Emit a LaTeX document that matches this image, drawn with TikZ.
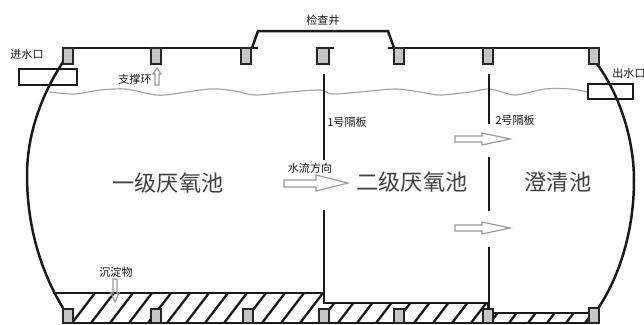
\documentclass[tikz,border=0pt]{standalone}
\usepackage{fontspec}
\usepackage{xcolor}
\newfontfamily\cjk{Noto Sans CJK SC}
\usetikzlibrary{positioning}

\tikzset{
    wall/.style={line width=0.5mm, black!90},
    hatchline/.style={line width=0.46mm, black!90},
    ring/.style={line width=0.46mm, draw=black!85, fill=gray!45},
    openarrow/.style={line width=0.24mm, draw=gray!80, fill=white},
    biglabel/.style={font=\cjk\fontsize{12.6}{14}\selectfont, text=black!75, inner sep=0pt},
    smalllabel/.style={font=\cjk\fontsize{6.3}{8}\selectfont, text=black!90, inner sep=0pt}
}

\begin{document}
\begin{tikzpicture}[x=0.2mm, y=-0.2mm]
    \useasboundingbox (0,0) rectangle (644,325);

    % Sediment
    \begin{scope}
        \clip (53,293) -- (324,293) -- (324,303) -- (488,303) -- (488,313) -- (599,313) -- (599,323) -- (63,323) -- cycle;
        \foreach \x in {72,91,...,600} {
            \draw[hatchline] (\x,323) -- (\x+23,293);
        }
    \end{scope}
    \draw[wall] (53,293) -- (324,293) -- (324,303) -- (488,303);
    \draw[wall] (488,303) -- (488,313) -- (599,313);
    \draw[wall] (63,323) -- (599,323);

    % Water level
    \draw[gray!70, line width=0.24mm] plot[smooth] coordinates {(49,92) (75,94) (100,90) (125,89) (150,94) (165,95) (210,89) (235,91) (255,95) (290,92) (320,90) (332,94) (360,92) (395,89) (420,92) (440,95) (470,92) (490,89) (515,95) (545,89) (570,89) (588,92)};

    % Tank
    \draw[wall] (63,62) .. controls (38,100) and (27,140) .. (27,175) .. controls (27,225) and (40,270) .. (63,308);
    \draw[wall] (597,64) .. controls (620,95) and (634,140) .. (634,180) .. controls (634,230) and (620,275) .. (599,307);
    \draw[wall] (63,48) -- (258,48);
    \draw[wall] (252,48) -- (258,31) -- (388,31) -- (394,48);
    \draw[wall] (317,48) -- (334,48);
    \draw[wall] (388,48) -- (599,48);

    % Inlet and outlet
    \draw[wall] (19,69) rectangle (77,85);
    \draw[wall] (588,84) rectangle (633,99);

    % Support rings
    \foreach \x/\w in {63/10, 151/10, 241/10, 317/12, 394/10, 483/10, 589/10} {
        \draw[ring] (\x,48) rectangle (\x+\w,64);
    }
    \foreach \x/\w/\y in {63/10/309, 151/10/309, 243/10/309, 319/10/309, 394/10/309, 483/10/309, 589/10/308} {
        \draw[ring] (\x,\y) rectangle (\x+\w,323);
    }

    % Baffles
    \draw[wall] (324,74) -- (324,160);
    \draw[wall] (324,210) -- (324,303);
    \draw[wall] (489,74) -- (489,124);
    \draw[wall] (489,157) -- (489,211);
    \draw[wall] (489,247) -- (489,309);

    % Flow arrows
    \draw[openarrow] (284,180) -- (316,180) -- (316,175) -- (348,183) -- (316,191) -- (316,187) -- (284,187) -- cycle;
    \foreach \y in {139,228} {
        \draw[openarrow] (455,\y-3) -- (482,\y-3) -- (482,\y-6) -- (510,\y) -- (482,\y+6) -- (482,\y+3) -- (455,\y+3) -- cycle;
    }
    \draw[openarrow] (155,85) -- (155,74) -- (153,74) -- (157,68) -- (161,74) -- (159,74) -- (159,85) -- cycle;
    \draw[openarrow, fill=none] (113,279) -- (113,293) -- (111,293) -- (115,302) -- (119,293) -- (117,293) -- (117,279) -- cycle;

    % Labels
    \node[smalllabel] (well) at (323,20) {\cjk 检查井};
    \node[smalllabel] (inlet) at (27,54) {\cjk 进水口};
    \node[smalllabel] (outlet) at (629,73) {\cjk 出水口};
    \node[smalllabel] (support) at (135,79) {\cjk 支撑环};
    \node[smalllabel] (sediment) at (116,272) {\cjk 沉淀物};
    \node[smalllabel] (baffleone) at (347,122) {\cjk 1号隔板};
    \node[smalllabel] (baffletwo) at (515,120) {\cjk 2号隔板};
    \node[smalllabel] (flow) at (310,168) {\cjk 水流方向};
    \node[biglabel] (first) at (168,183) {\cjk 一级厌氧池};
    \node[biglabel] (second) at (412,182) {\cjk 二级厌氧池};
    \node[biglabel] (clear) at (558,182) {\cjk 澄清池};
\end{tikzpicture}
\end{document}
